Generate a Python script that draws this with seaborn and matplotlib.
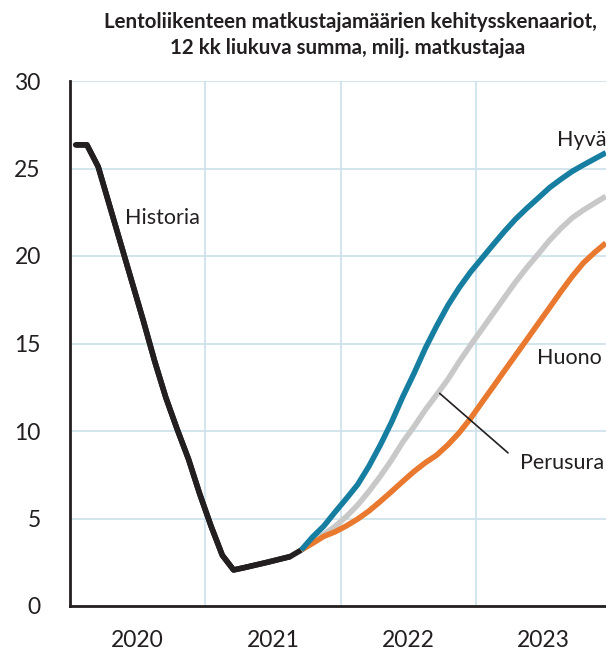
import numpy as np
import pandas as pd
import matplotlib
matplotlib.use("Agg")
import matplotlib.pyplot as plt
import seaborn as sns

# --- data (million passengers, 12-month rolling sum), monthly from Jan 2020 ---
years = ["2020", "2021", "2022", "2023"]
historia = [26.35, 26.35, 25.1, 22.9, 20.7, 18.5, 16.3, 14.0, 11.9, 10.1, 8.4, 6.4,
            4.57, 2.9, 2.06, 2.2, 2.35, 2.5, 2.66, 2.82, 3.2]
hyva = [3.2, 3.94, 4.57, 5.37, 6.14, 6.94, 7.99, 9.19, 10.5, 11.96, 13.3, 14.73,
        16.0, 17.18, 18.19, 19.08, 19.86, 20.64, 21.4, 22.11, 22.73, 23.31, 23.9, 24.38,
        24.83, 25.2, 25.55, 25.9]
perusura = [3.2, 3.68, 4.10, 4.55, 5.11, 5.77, 6.55, 7.41, 8.34, 9.37, 10.25, 11.21,
            12.07, 12.95, 13.96, 14.9, 15.8, 16.71, 17.62, 18.52, 19.34, 20.11, 20.89, 21.57,
            22.17, 22.62, 23.02, 23.41]
huono = [3.2, 3.58, 3.98, 4.24, 4.58, 4.97, 5.43, 5.97, 6.54, 7.12, 7.69, 8.19,
         8.62, 9.21, 9.9, 10.71, 11.62, 12.52, 13.43, 14.33, 15.23, 16.14, 17.04, 17.95,
         18.82, 19.6, 20.2, 20.74]

start_scen = len(historia) - 1
df = pd.concat([
    pd.DataFrame({"x": np.arange(len(historia)) + 0.5, "y": historia, "s": "Historia"}),
    pd.DataFrame({"x": np.arange(start_scen, start_scen + len(perusura)) + 0.5, "y": perusura, "s": "Perusura"}),
    pd.DataFrame({"x": np.arange(start_scen, start_scen + len(huono)) + 0.5, "y": huono, "s": "Huono"}),
    pd.DataFrame({"x": np.arange(start_scen, start_scen + len(hyva)) + 0.5, "y": hyva, "s": "Hyvä"}),
])

sns.set_theme(style="white")
plt.rcParams["font.family"] = ["Lato", "DejaVu Sans"]

colors = {"Historia": "#231f20", "Perusura": "#c8c8c8", "Huono": "#e8792f", "Hyvä": "#167ea1"}

fig = plt.figure(figsize=(6.06, 6.53), dpi=100)
ax = fig.add_axes([70 / 606, 1 - 606 / 653, (611.5 - 70) / 606, (606 - 81) / 653])

LW = 4.0
for name in ["Perusura", "Huono", "Hyvä", "Historia"]:
    sub = df[df["s"] == name]
    sns.lineplot(data=sub, x="x", y="y", color=colors[name], lw=LW, ax=ax,
                 legend=False, solid_capstyle="butt", zorder=3 if name != "Historia" else 2)
sns.lineplot(data=df[df["s"] == "Historia"].iloc[:-1], x="x", y="y", color=colors["Historia"],
             lw=LW, ax=ax, legend=False, zorder=4)

ax.set_xlim(0, 48)
ax.set_ylim(0, 30)
ax.set_xlabel("")
ax.set_ylabel("")

ax.set_xticks([0, 12, 24, 36, 48])
ax.set_xticklabels([])
ax.set_xticks([6, 18, 30, 42], minor=True)
ax.set_xticklabels(years, minor=True)
ax.tick_params(axis="x", which="major", direction="out", length=9, width=1.8, color="#231f20")
ax.tick_params(axis="x", which="minor", length=0, pad=17, labelsize=16.5, labelcolor="#231f20")
ax.set_yticks(range(0, 31, 5))
ax.tick_params(axis="y", direction="out", length=9, width=1.8, color="#231f20",
               labelsize=16.5, labelcolor="#231f20", pad=12)

ax.grid(True, which="major", color="#cce2ea", lw=1.2)
ax.set_axisbelow(True)
for sp in ["top", "right"]:
    ax.spines[sp].set_visible(False)
for sp in ["left", "bottom"]:
    ax.spines[sp].set_color("#231f20")
    ax.spines[sp].set_linewidth(2)
    ax.spines[sp].set_zorder(5)

FS = 15.5
ax.text(4.87, 22.2, "Historia", fontsize=FS, color="#231f20", va="center", ha="left")
ax.text(41.36, 14.17, "Huono", fontsize=FS, color="#231f20", va="center", ha="left")
ax.text(43.2, 26.6, "Hyvä", fontsize=FS, color="#231f20", va="center", ha="left")
ax.annotate("Perusura", xy=(32.77, 12.15), xytext=(39.86, 8.17), fontsize=FS,
            color="#231f20", va="center", ha="left",
            arrowprops=dict(arrowstyle="-", color="#231f20", lw=1.2, shrinkA=8, shrinkB=0,
                            relpos=(0, 0.5)))

fig.text(350 / 606, 1 - 22 / 653, "Lentoliikenteen matkustajamäärien kehitysskenaariot,",
         ha="center", va="center", fontsize=14.8, fontweight="bold", color="#231f20")
fig.text(348 / 606, 1 - 48 / 653, "12 kk liukuva summa, milj. matkustajaa",
         ha="center", va="center", fontsize=14.8, fontweight="bold", color="#231f20")

fig.savefig("out.png", dpi=100)
